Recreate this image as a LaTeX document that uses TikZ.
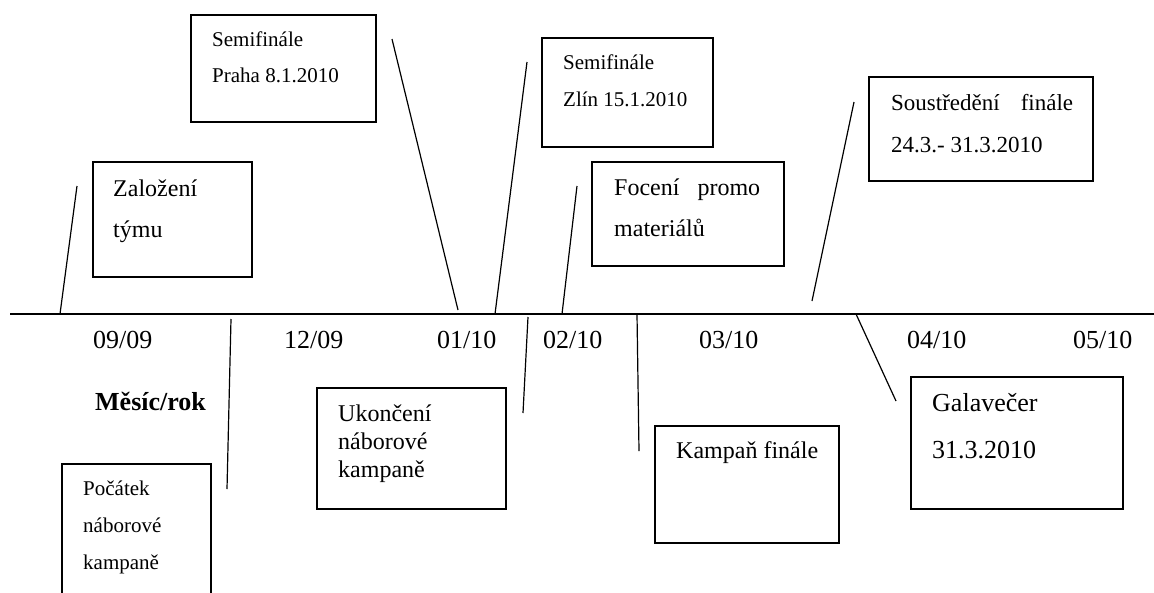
\documentclass[tikz,border=0pt]{standalone}
\usepackage{fontspec}
\setmainfont{Liberation Serif}
\begin{document}
\begin{tikzpicture}[x=1pt,y=-1pt,
  frame/.style={draw, line width=1.2pt, inner sep=0pt, outer sep=0pt, anchor=north west},
  conn/.style={line width=1.2pt},
  txt/.style={anchor=base west, inner sep=0pt, font=\fontsize{24}{28}\selectfont},
  txts/.style={txt, font=\fontsize{21}{25}\selectfont},
  txtm/.style={txt, font=\fontsize{23}{27}\selectfont},
  txtl/.style={txt, font=\fontsize{26}{30}\selectfont}]
\clip (0,0) rectangle (1154,592);
\fill[white] (0,0) rectangle (1154,592);

% axis
\coordinate (axL) at (10,314);
\coordinate (axR) at (1154,314);
\draw[conn] (axL) -- (axR);

% boxes
\node[frame, minimum width=159pt, minimum height=115pt] (bZal) at (93,162) {};
\node[frame, minimum width=185pt, minimum height=107pt] (bPra) at (191,15) {};
\node[frame, minimum width=171pt, minimum height=109pt] (bZli) at (542,38) {};
\node[frame, minimum width=192pt, minimum height=104pt] (bFoc) at (592,162) {};
\node[frame, minimum width=224pt, minimum height=104pt] (bSou) at (869,77) {};
\node[frame, minimum width=212pt, minimum height=132pt] (bGal) at (911,377) {};
\node[frame, minimum width=184pt, minimum height=117pt] (bKam) at (655,426) {};
\node[frame, minimum width=189pt, minimum height=121pt] (bUko) at (317,388) {};
\node[frame, minimum width=149pt, minimum height=140pt] (bPoc) at (62,464) {};

% texts
\node[txt] (tZal1) at (113,196) {Založení};
\node[txt] (tZal2) at (113,237) {týmu};
\node[txts] (tPra1) at (212,46) {Semifinále};
\node[txts] (tPra2) at (212,82) {Praha 8.1.2010};
\node[txts] (tZli1) at (563,69) {Semifinále};
\node[txts] (tZli2) at (563,106) {Zlín 15.1.2010};
\node[txt] (tFoc1) at (614,195) {\makebox[146pt][l]{Focení\hfill promo}};
\node[txt] (tFoc2) at (614,236) {materiálů};
\node[txtm] (tSou1) at (891,110) {\makebox[182pt][l]{Soustředění\hfill finále}};
\node[txtm] (tSou2) at (891,152) {24.3.- 31.3.2010};
\node[txtl] (tGal1) at (932,411) {Galavečer};
\node[txtl] (tGal2) at (932,458) {31.3.2010};
\node[txt] (tKam) at (676,458) {Kampaň finále};
\node[txt] (tUko1) at (338,421) {Ukončení};
\node[txt] (tUko2) at (338,449) {náborové};
\node[txt] (tUko3) at (338,477) {kampaně};
\node[txts] (tPoc1) at (83,495) {Počátek};
\node[txts] (tPoc2) at (83,532) {náborové};
\node[txts] (tPoc3) at (83,569) {kampaně};
\node[txtl, font=\fontsize{26}{30}\selectfont\bfseries] (tMes) at (95,410) {Měsíc/rok};

% month labels
\node[txtl] (m1) at (93,348) {09/09};
\node[txtl] (m2) at (284,348) {12/09};
\node[txtl] (m3) at (437,348) {01/10};
\node[txtl] (m4) at (543,348) {02/10};
\node[txtl] (m5) at (699,348) {03/10};
\node[txtl] (m6) at (907,348) {04/10};
\node[txtl] (m7) at (1073,348) {05/10};

% connectors
\coordinate (c1a) at (60,314);  \coordinate (c1b) at (77,186);
\coordinate (c2a) at (458,310); \coordinate (c2b) at (392,39);
\coordinate (c3a) at (495,314); \coordinate (c3b) at (527,62);
\coordinate (c4a) at (562,314); \coordinate (c4b) at (577,186);
\coordinate (c5a) at (812,301); \coordinate (c5b) at (854,102);
\coordinate (c6a) at (856,314); \coordinate (c6b) at (896,401);
\coordinate (c7a) at (637,314); \coordinate (c7b) at (639,451);
\coordinate (c8a) at (528,317); \coordinate (c8b) at (523,413);
\coordinate (c9a) at (231,319); \coordinate (c9b) at (227,489);
\draw[conn] (c1a) -- (c1b);
\draw[conn] (c2a) -- (c2b);
\draw[conn] (c3a) -- (c3b);
\draw[conn] (c4a) -- (c4b);
\draw[conn] (c5a) -- (c5b);
\draw[conn] (c6a) -- (c6b);
\draw[conn] (c7a) -- (c7b);
\draw[conn] (c8a) -- (c8b);
\draw[conn] (c9a) -- (c9b);
\end{tikzpicture}
\end{document}
